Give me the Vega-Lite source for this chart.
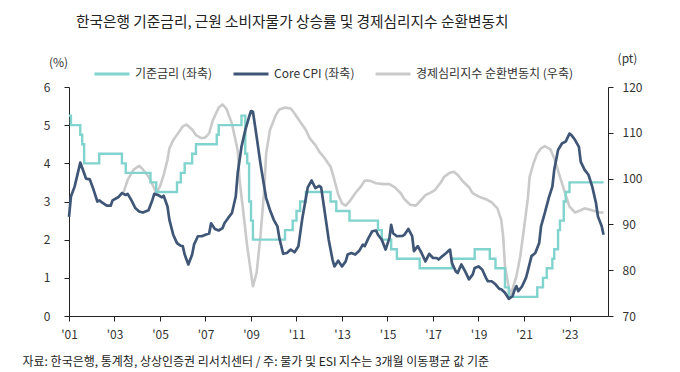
{
  "$schema": "https://vega.github.io/schema/vega-lite/v6.json",
  "width": 539,
  "height": 229,
  "autosize": {"type": "none"},
  "padding": {"left": 69, "top": 87, "right": 72, "bottom": 56},
  "background": "white",
  "title": {
    "text": "한국은행 기준금리, 근원 소비자물가 상승률 및 경제심리지수 순환변동치",
    "anchor": "start",
    "frame": "group",
    "dx": 7,
    "offset": 22,
    "fontSize": 14.7,
    "fontWeight": "normal",
    "color": "#222222",
    "font": "Noto Sans CJK KR"
  },
  "config": {
    "font": "Noto Sans CJK KR",
    "view": {"stroke": null},
    "axis": {
      "grid": false,
      "domainColor": "#222222",
      "tickColor": "#222222",
      "tickSize": 5,
      "labelFontSize": 12,
      "labelColor": "#333333",
      "labelOverlap": false,
      "titleFontSize": 12,
      "titleFontWeight": "normal",
      "titleColor": "#333333"
    }
  },
  "datasets": {
    "rows": [
      {"series": "기준금리 (좌축)", "date": "2001-01-01", "value": 5.25},
      {"series": "기준금리 (좌축)", "date": "2001-02-01", "value": 5.0},
      {"series": "기준금리 (좌축)", "date": "2001-07-01", "value": 4.75},
      {"series": "기준금리 (좌축)", "date": "2001-08-01", "value": 4.5},
      {"series": "기준금리 (좌축)", "date": "2001-09-01", "value": 4.0},
      {"series": "기준금리 (좌축)", "date": "2002-05-01", "value": 4.25},
      {"series": "기준금리 (좌축)", "date": "2003-05-01", "value": 4.0},
      {"series": "기준금리 (좌축)", "date": "2003-07-01", "value": 3.75},
      {"series": "기준금리 (좌축)", "date": "2004-08-01", "value": 3.5},
      {"series": "기준금리 (좌축)", "date": "2004-11-01", "value": 3.25},
      {"series": "기준금리 (좌축)", "date": "2005-10-01", "value": 3.5},
      {"series": "기준금리 (좌축)", "date": "2005-12-01", "value": 3.75},
      {"series": "기준금리 (좌축)", "date": "2006-02-01", "value": 4.0},
      {"series": "기준금리 (좌축)", "date": "2006-06-01", "value": 4.25},
      {"series": "기준금리 (좌축)", "date": "2006-08-01", "value": 4.5},
      {"series": "기준금리 (좌축)", "date": "2007-07-01", "value": 4.75},
      {"series": "기준금리 (좌축)", "date": "2007-08-01", "value": 5.0},
      {"series": "기준금리 (좌축)", "date": "2008-08-01", "value": 5.25},
      {"series": "기준금리 (좌축)", "date": "2008-10-01", "value": 4.25},
      {"series": "기준금리 (좌축)", "date": "2008-11-01", "value": 4.0},
      {"series": "기준금리 (좌축)", "date": "2008-12-01", "value": 3.0},
      {"series": "기준금리 (좌축)", "date": "2009-01-01", "value": 2.5},
      {"series": "기준금리 (좌축)", "date": "2009-02-01", "value": 2.0},
      {"series": "기준금리 (좌축)", "date": "2010-07-01", "value": 2.25},
      {"series": "기준금리 (좌축)", "date": "2010-11-01", "value": 2.5},
      {"series": "기준금리 (좌축)", "date": "2011-01-01", "value": 2.75},
      {"series": "기준금리 (좌축)", "date": "2011-03-01", "value": 3.0},
      {"series": "기준금리 (좌축)", "date": "2011-06-01", "value": 3.25},
      {"series": "기준금리 (좌축)", "date": "2012-07-01", "value": 3.0},
      {"series": "기준금리 (좌축)", "date": "2012-10-01", "value": 2.75},
      {"series": "기준금리 (좌축)", "date": "2013-05-01", "value": 2.5},
      {"series": "기준금리 (좌축)", "date": "2014-08-01", "value": 2.25},
      {"series": "기준금리 (좌축)", "date": "2014-10-01", "value": 2.0},
      {"series": "기준금리 (좌축)", "date": "2015-03-01", "value": 1.75},
      {"series": "기준금리 (좌축)", "date": "2015-06-01", "value": 1.5},
      {"series": "기준금리 (좌축)", "date": "2016-06-01", "value": 1.25},
      {"series": "기준금리 (좌축)", "date": "2017-11-01", "value": 1.5},
      {"series": "기준금리 (좌축)", "date": "2018-11-01", "value": 1.75},
      {"series": "기준금리 (좌축)", "date": "2019-07-01", "value": 1.5},
      {"series": "기준금리 (좌축)", "date": "2019-10-01", "value": 1.25},
      {"series": "기준금리 (좌축)", "date": "2020-03-01", "value": 0.75},
      {"series": "기준금리 (좌축)", "date": "2020-05-01", "value": 0.5},
      {"series": "기준금리 (좌축)", "date": "2021-08-01", "value": 0.75},
      {"series": "기준금리 (좌축)", "date": "2021-11-01", "value": 1.0},
      {"series": "기준금리 (좌축)", "date": "2022-01-01", "value": 1.25},
      {"series": "기준금리 (좌축)", "date": "2022-04-01", "value": 1.5},
      {"series": "기준금리 (좌축)", "date": "2022-05-01", "value": 1.75},
      {"series": "기준금리 (좌축)", "date": "2022-07-01", "value": 2.25},
      {"series": "기준금리 (좌축)", "date": "2022-08-01", "value": 2.5},
      {"series": "기준금리 (좌축)", "date": "2022-10-01", "value": 3.0},
      {"series": "기준금리 (좌축)", "date": "2022-11-01", "value": 3.25},
      {"series": "기준금리 (좌축)", "date": "2023-01-01", "value": 3.5},
      {"series": "기준금리 (좌축)", "date": "2024-07-01", "value": 3.5},

      {"series": "Core CPI (좌축)", "date": "2001-01-01", "value": 2.6},
      {"series": "Core CPI (좌축)", "date": "2001-02-01", "value": 3.13},
      {"series": "Core CPI (좌축)", "date": "2001-04-01", "value": 3.39},
      {"series": "Core CPI (좌축)", "date": "2001-07-01", "value": 4.02},
      {"series": "Core CPI (좌축)", "date": "2001-09-01", "value": 3.74},
      {"series": "Core CPI (좌축)", "date": "2001-10-01", "value": 3.6},
      {"series": "Core CPI (좌축)", "date": "2001-12-01", "value": 3.58},
      {"series": "Core CPI (좌축)", "date": "2002-02-01", "value": 3.3},
      {"series": "Core CPI (좌축)", "date": "2002-04-01", "value": 3.0},
      {"series": "Core CPI (좌축)", "date": "2002-05-01", "value": 3.03},
      {"series": "Core CPI (좌축)", "date": "2002-07-01", "value": 2.96},
      {"series": "Core CPI (좌축)", "date": "2002-09-01", "value": 2.89},
      {"series": "Core CPI (좌축)", "date": "2002-11-01", "value": 2.89},
      {"series": "Core CPI (좌축)", "date": "2002-12-01", "value": 3.03},
      {"series": "Core CPI (좌축)", "date": "2003-03-01", "value": 3.11},
      {"series": "Core CPI (좌축)", "date": "2003-05-01", "value": 3.22},
      {"series": "Core CPI (좌축)", "date": "2003-07-01", "value": 3.17},
      {"series": "Core CPI (좌축)", "date": "2003-08-01", "value": 3.2},
      {"series": "Core CPI (좌축)", "date": "2003-10-01", "value": 3.03},
      {"series": "Core CPI (좌축)", "date": "2003-12-01", "value": 2.83},
      {"series": "Core CPI (좌축)", "date": "2004-02-01", "value": 2.74},
      {"series": "Core CPI (좌축)", "date": "2004-04-01", "value": 2.71},
      {"series": "Core CPI (좌축)", "date": "2004-07-01", "value": 2.77},
      {"series": "Core CPI (좌축)", "date": "2004-09-01", "value": 3.04},
      {"series": "Core CPI (좌축)", "date": "2004-10-01", "value": 3.2},
      {"series": "Core CPI (좌축)", "date": "2004-12-01", "value": 3.17},
      {"series": "Core CPI (좌축)", "date": "2005-02-01", "value": 3.11},
      {"series": "Core CPI (좌축)", "date": "2005-03-01", "value": 3.15},
      {"series": "Core CPI (좌축)", "date": "2005-05-01", "value": 2.87},
      {"series": "Core CPI (좌축)", "date": "2005-06-01", "value": 2.52},
      {"series": "Core CPI (좌축)", "date": "2005-08-01", "value": 2.13},
      {"series": "Core CPI (좌축)", "date": "2005-10-01", "value": 1.91},
      {"series": "Core CPI (좌축)", "date": "2005-12-01", "value": 1.84},
      {"series": "Core CPI (좌축)", "date": "2006-01-01", "value": 1.83},
      {"series": "Core CPI (좌축)", "date": "2006-02-01", "value": 1.61},
      {"series": "Core CPI (좌축)", "date": "2006-04-01", "value": 1.35},
      {"series": "Core CPI (좌축)", "date": "2006-06-01", "value": 1.61},
      {"series": "Core CPI (좌축)", "date": "2006-07-01", "value": 1.87},
      {"series": "Core CPI (좌축)", "date": "2006-09-01", "value": 2.09},
      {"series": "Core CPI (좌축)", "date": "2006-11-01", "value": 2.09},
      {"series": "Core CPI (좌축)", "date": "2007-01-01", "value": 2.13},
      {"series": "Core CPI (좌축)", "date": "2007-03-01", "value": 2.16},
      {"series": "Core CPI (좌축)", "date": "2007-04-01", "value": 2.43},
      {"series": "Core CPI (좌축)", "date": "2007-06-01", "value": 2.28},
      {"series": "Core CPI (좌축)", "date": "2007-08-01", "value": 2.24},
      {"series": "Core CPI (좌축)", "date": "2007-10-01", "value": 2.3},
      {"series": "Core CPI (좌축)", "date": "2007-11-01", "value": 2.43},
      {"series": "Core CPI (좌축)", "date": "2008-01-01", "value": 2.57},
      {"series": "Core CPI (좌축)", "date": "2008-03-01", "value": 2.7},
      {"series": "Core CPI (좌축)", "date": "2008-05-01", "value": 3.13},
      {"series": "Core CPI (좌축)", "date": "2008-06-01", "value": 3.74},
      {"series": "Core CPI (좌축)", "date": "2008-08-01", "value": 4.43},
      {"series": "Core CPI (좌축)", "date": "2008-10-01", "value": 4.87},
      {"series": "Core CPI (좌축)", "date": "2008-12-01", "value": 5.22},
      {"series": "Core CPI (좌축)", "date": "2009-01-01", "value": 5.37},
      {"series": "Core CPI (좌축)", "date": "2009-02-01", "value": 5.35},
      {"series": "Core CPI (좌축)", "date": "2009-04-01", "value": 4.7},
      {"series": "Core CPI (좌축)", "date": "2009-06-01", "value": 4.0},
      {"series": "Core CPI (좌축)", "date": "2009-08-01", "value": 3.39},
      {"series": "Core CPI (좌축)", "date": "2009-09-01", "value": 3.09},
      {"series": "Core CPI (좌축)", "date": "2009-11-01", "value": 2.78},
      {"series": "Core CPI (좌축)", "date": "2010-01-01", "value": 2.52},
      {"series": "Core CPI (좌축)", "date": "2010-03-01", "value": 2.35},
      {"series": "Core CPI (좌축)", "date": "2010-04-01", "value": 2.04},
      {"series": "Core CPI (좌축)", "date": "2010-06-01", "value": 1.63},
      {"series": "Core CPI (좌축)", "date": "2010-08-01", "value": 1.65},
      {"series": "Core CPI (좌축)", "date": "2010-09-01", "value": 1.7},
      {"series": "Core CPI (좌축)", "date": "2010-10-01", "value": 1.74},
      {"series": "Core CPI (좌축)", "date": "2010-12-01", "value": 1.67},
      {"series": "Core CPI (좌축)", "date": "2011-02-01", "value": 1.83},
      {"series": "Core CPI (좌축)", "date": "2011-04-01", "value": 2.52},
      {"series": "Core CPI (좌축)", "date": "2011-06-01", "value": 3.09},
      {"series": "Core CPI (좌축)", "date": "2011-07-01", "value": 3.37},
      {"series": "Core CPI (좌축)", "date": "2011-09-01", "value": 3.55},
      {"series": "Core CPI (좌축)", "date": "2011-11-01", "value": 3.35},
      {"series": "Core CPI (좌축)", "date": "2012-01-01", "value": 3.41},
      {"series": "Core CPI (좌축)", "date": "2012-02-01", "value": 3.37},
      {"series": "Core CPI (좌축)", "date": "2012-04-01", "value": 2.7},
      {"series": "Core CPI (좌축)", "date": "2012-06-01", "value": 2.0},
      {"series": "Core CPI (좌축)", "date": "2012-08-01", "value": 1.48},
      {"series": "Core CPI (좌축)", "date": "2012-09-01", "value": 1.3},
      {"series": "Core CPI (좌축)", "date": "2012-11-01", "value": 1.45},
      {"series": "Core CPI (좌축)", "date": "2013-01-01", "value": 1.3},
      {"series": "Core CPI (좌축)", "date": "2013-03-01", "value": 1.43},
      {"series": "Core CPI (좌축)", "date": "2013-04-01", "value": 1.61},
      {"series": "Core CPI (좌축)", "date": "2013-06-01", "value": 1.65},
      {"series": "Core CPI (좌축)", "date": "2013-08-01", "value": 1.61},
      {"series": "Core CPI (좌축)", "date": "2013-10-01", "value": 1.7},
      {"series": "Core CPI (좌축)", "date": "2013-12-01", "value": 1.87},
      {"series": "Core CPI (좌축)", "date": "2014-01-01", "value": 1.83},
      {"series": "Core CPI (좌축)", "date": "2014-03-01", "value": 2.04},
      {"series": "Core CPI (좌축)", "date": "2014-05-01", "value": 2.22},
      {"series": "Core CPI (좌축)", "date": "2014-07-01", "value": 2.24},
      {"series": "Core CPI (좌축)", "date": "2014-08-01", "value": 2.13},
      {"series": "Core CPI (좌축)", "date": "2014-10-01", "value": 2.0},
      {"series": "Core CPI (좌축)", "date": "2014-12-01", "value": 1.74},
      {"series": "Core CPI (좌축)", "date": "2015-02-01", "value": 2.04},
      {"series": "Core CPI (좌축)", "date": "2015-03-01", "value": 2.39},
      {"series": "Core CPI (좌축)", "date": "2015-04-01", "value": 2.17},
      {"series": "Core CPI (좌축)", "date": "2015-06-01", "value": 2.09},
      {"series": "Core CPI (좌축)", "date": "2015-09-01", "value": 2.1},
      {"series": "Core CPI (좌축)", "date": "2015-10-01", "value": 2.13},
      {"series": "Core CPI (좌축)", "date": "2015-12-01", "value": 2.28},
      {"series": "Core CPI (좌축)", "date": "2016-02-01", "value": 2.09},
      {"series": "Core CPI (좌축)", "date": "2016-03-01", "value": 1.7},
      {"series": "Core CPI (좌축)", "date": "2016-05-01", "value": 1.83},
      {"series": "Core CPI (좌축)", "date": "2016-07-01", "value": 1.65},
      {"series": "Core CPI (좌축)", "date": "2016-09-01", "value": 1.43},
      {"series": "Core CPI (좌축)", "date": "2016-11-01", "value": 1.63},
      {"series": "Core CPI (좌축)", "date": "2017-01-01", "value": 1.52},
      {"series": "Core CPI (좌축)", "date": "2017-03-01", "value": 1.52},
      {"series": "Core CPI (좌축)", "date": "2017-04-01", "value": 1.48},
      {"series": "Core CPI (좌축)", "date": "2017-06-01", "value": 1.57},
      {"series": "Core CPI (좌축)", "date": "2017-08-01", "value": 1.65},
      {"series": "Core CPI (좌축)", "date": "2017-10-01", "value": 1.74},
      {"series": "Core CPI (좌축)", "date": "2017-11-01", "value": 1.39},
      {"series": "Core CPI (좌축)", "date": "2018-01-01", "value": 1.17},
      {"series": "Core CPI (좌축)", "date": "2018-02-01", "value": 1.13},
      {"series": "Core CPI (좌축)", "date": "2018-04-01", "value": 1.35},
      {"series": "Core CPI (좌축)", "date": "2018-06-01", "value": 1.17},
      {"series": "Core CPI (좌축)", "date": "2018-08-01", "value": 0.96},
      {"series": "Core CPI (좌축)", "date": "2018-10-01", "value": 1.09},
      {"series": "Core CPI (좌축)", "date": "2018-11-01", "value": 1.26},
      {"series": "Core CPI (좌축)", "date": "2019-01-01", "value": 1.3},
      {"series": "Core CPI (좌축)", "date": "2019-03-01", "value": 1.22},
      {"series": "Core CPI (좌축)", "date": "2019-05-01", "value": 1.0},
      {"series": "Core CPI (좌축)", "date": "2019-06-01", "value": 0.91},
      {"series": "Core CPI (좌축)", "date": "2019-08-01", "value": 0.91},
      {"series": "Core CPI (좌축)", "date": "2019-10-01", "value": 0.83},
      {"series": "Core CPI (좌축)", "date": "2019-12-01", "value": 0.71},
      {"series": "Core CPI (좌축)", "date": "2020-01-01", "value": 0.7},
      {"series": "Core CPI (좌축)", "date": "2020-03-01", "value": 0.61},
      {"series": "Core CPI (좌축)", "date": "2020-05-01", "value": 0.45},
      {"series": "Core CPI (좌축)", "date": "2020-07-01", "value": 0.52},
      {"series": "Core CPI (좌축)", "date": "2020-08-01", "value": 0.68},
      {"series": "Core CPI (좌축)", "date": "2020-09-01", "value": 0.78},
      {"series": "Core CPI (좌축)", "date": "2020-10-01", "value": 0.65},
      {"series": "Core CPI (좌축)", "date": "2020-12-01", "value": 0.78},
      {"series": "Core CPI (좌축)", "date": "2021-02-01", "value": 1.0},
      {"series": "Core CPI (좌축)", "date": "2021-03-01", "value": 1.17},
      {"series": "Core CPI (좌축)", "date": "2021-05-01", "value": 1.57},
      {"series": "Core CPI (좌축)", "date": "2021-07-01", "value": 1.65},
      {"series": "Core CPI (좌축)", "date": "2021-09-01", "value": 1.91},
      {"series": "Core CPI (좌축)", "date": "2021-10-01", "value": 2.35},
      {"series": "Core CPI (좌축)", "date": "2021-12-01", "value": 2.7},
      {"series": "Core CPI (좌축)", "date": "2022-02-01", "value": 3.09},
      {"series": "Core CPI (좌축)", "date": "2022-04-01", "value": 3.39},
      {"series": "Core CPI (좌축)", "date": "2022-05-01", "value": 3.83},
      {"series": "Core CPI (좌축)", "date": "2022-07-01", "value": 4.35},
      {"series": "Core CPI (좌축)", "date": "2022-09-01", "value": 4.52},
      {"series": "Core CPI (좌축)", "date": "2022-11-01", "value": 4.57},
      {"series": "Core CPI (좌축)", "date": "2023-01-01", "value": 4.78},
      {"series": "Core CPI (좌축)", "date": "2023-02-01", "value": 4.74},
      {"series": "Core CPI (좌축)", "date": "2023-04-01", "value": 4.61},
      {"series": "Core CPI (좌축)", "date": "2023-06-01", "value": 4.43},
      {"series": "Core CPI (좌축)", "date": "2023-07-01", "value": 4.04},
      {"series": "Core CPI (좌축)", "date": "2023-09-01", "value": 3.83},
      {"series": "Core CPI (좌축)", "date": "2023-11-01", "value": 3.7},
      {"series": "Core CPI (좌축)", "date": "2024-01-01", "value": 3.39},
      {"series": "Core CPI (좌축)", "date": "2024-03-01", "value": 2.96},
      {"series": "Core CPI (좌축)", "date": "2024-04-01", "value": 2.61},
      {"series": "Core CPI (좌축)", "date": "2024-06-01", "value": 2.35},
      {"series": "Core CPI (좌축)", "date": "2024-07-01", "value": 2.13},

      {"series": "경제심리지수 순환변동치 (우축)", "date": "2003-03-01", "value": 95.9},
      {"series": "경제심리지수 순환변동치 (우축)", "date": "2003-06-01", "value": 97.2},
      {"series": "경제심리지수 순환변동치 (우축)", "date": "2003-08-01", "value": 99.7},
      {"series": "경제심리지수 순환변동치 (우축)", "date": "2003-11-01", "value": 101.9},
      {"series": "경제심리지수 순환변동치 (우축)", "date": "2004-02-01", "value": 102.8},
      {"series": "경제심리지수 순환변동치 (우축)", "date": "2004-04-01", "value": 102.0},
      {"series": "경제심리지수 순환변동치 (우축)", "date": "2004-07-01", "value": 100.4},
      {"series": "경제심리지수 순환변동치 (우축)", "date": "2004-10-01", "value": 97.9},
      {"series": "경제심리지수 순환변동치 (우축)", "date": "2004-11-01", "value": 96.8},
      {"series": "경제심리지수 순환변동치 (우축)", "date": "2005-01-01", "value": 98.3},
      {"series": "경제심리지수 순환변동치 (우축)", "date": "2005-03-01", "value": 100.8},
      {"series": "경제심리지수 순환변동치 (우축)", "date": "2005-05-01", "value": 104.1},
      {"series": "경제심리지수 순환변동치 (우축)", "date": "2005-06-01", "value": 106.6},
      {"series": "경제심리지수 순환변동치 (우축)", "date": "2005-08-01", "value": 108.4},
      {"series": "경제심리지수 순환변동치 (우축)", "date": "2005-11-01", "value": 110.2},
      {"series": "경제심리지수 순환변동치 (우축)", "date": "2006-01-01", "value": 111.4},
      {"series": "경제심리지수 순환변동치 (우축)", "date": "2006-03-01", "value": 111.8},
      {"series": "경제심리지수 순환변동치 (우축)", "date": "2006-06-01", "value": 110.7},
      {"series": "경제심리지수 순환변동치 (우축)", "date": "2006-08-01", "value": 109.5},
      {"series": "경제심리지수 순환변동치 (우축)", "date": "2006-11-01", "value": 108.8},
      {"series": "경제심리지수 순환변동치 (우축)", "date": "2007-01-01", "value": 109.0},
      {"series": "경제심리지수 순환변동치 (우축)", "date": "2007-03-01", "value": 109.9},
      {"series": "경제심리지수 순환변동치 (우축)", "date": "2007-05-01", "value": 112.8},
      {"series": "경제심리지수 순환변동치 (우축)", "date": "2007-08-01", "value": 115.5},
      {"series": "경제심리지수 순환변동치 (우축)", "date": "2007-10-01", "value": 116.2},
      {"series": "경제심리지수 순환변동치 (우축)", "date": "2007-12-01", "value": 115.3},
      {"series": "경제심리지수 순환변동치 (우축)", "date": "2008-03-01", "value": 112.0},
      {"series": "경제심리지수 순환변동치 (우축)", "date": "2008-06-01", "value": 106.2},
      {"series": "경제심리지수 순환변동치 (우축)", "date": "2008-07-01", "value": 99.7},
      {"series": "경제심리지수 순환변동치 (우축)", "date": "2008-09-01", "value": 92.5},
      {"series": "경제심리지수 순환변동치 (우축)", "date": "2008-11-01", "value": 85.2},
      {"series": "경제심리지수 순환변동치 (우축)", "date": "2009-01-01", "value": 79.4},
      {"series": "경제심리지수 순환변동치 (우축)", "date": "2009-02-01", "value": 76.5},
      {"series": "경제심리지수 순환변동치 (우축)", "date": "2009-04-01", "value": 79.4},
      {"series": "경제심리지수 순환변동치 (우축)", "date": "2009-06-01", "value": 87.4},
      {"series": "경제심리지수 순환변동치 (우축)", "date": "2009-08-01", "value": 97.5},
      {"series": "경제심리지수 순환변동치 (우축)", "date": "2009-09-01", "value": 105.5},
      {"series": "경제심리지수 순환변동치 (우축)", "date": "2009-11-01", "value": 110.6},
      {"series": "경제심리지수 순환변동치 (우축)", "date": "2010-02-01", "value": 113.8},
      {"series": "경제심리지수 순환변동치 (우축)", "date": "2010-04-01", "value": 115.1},
      {"series": "경제심리지수 순환변동치 (우축)", "date": "2010-07-01", "value": 115.5},
      {"series": "경제심리지수 순환변동치 (우축)", "date": "2010-10-01", "value": 115.3},
      {"series": "경제심리지수 순환변동치 (우축)", "date": "2010-12-01", "value": 114.2},
      {"series": "경제심리지수 순환변동치 (우축)", "date": "2011-03-01", "value": 112.4},
      {"series": "경제심리지수 순환변동치 (우축)", "date": "2011-06-01", "value": 110.6},
      {"series": "경제심리지수 순환변동치 (우축)", "date": "2011-08-01", "value": 108.8},
      {"series": "경제심리지수 순환변동치 (우축)", "date": "2011-11-01", "value": 107.3},
      {"series": "경제심리지수 순환변동치 (우축)", "date": "2012-01-01", "value": 105.9},
      {"series": "경제심리지수 순환변동치 (우축)", "date": "2012-04-01", "value": 104.4},
      {"series": "경제심리지수 순환변동치 (우축)", "date": "2012-07-01", "value": 102.6},
      {"series": "경제심리지수 순환변동치 (우축)", "date": "2012-09-01", "value": 99.7},
      {"series": "경제심리지수 순환변동치 (우축)", "date": "2012-11-01", "value": 96.5},
      {"series": "경제심리지수 순환변동치 (우축)", "date": "2013-01-01", "value": 94.6},
      {"series": "경제심리지수 순환변동치 (우축)", "date": "2013-03-01", "value": 94.1},
      {"series": "경제심리지수 순환변동치 (우축)", "date": "2013-05-01", "value": 95.0},
      {"series": "경제심리지수 순환변동치 (우축)", "date": "2013-08-01", "value": 96.8},
      {"series": "경제심리지수 순환변동치 (우축)", "date": "2013-11-01", "value": 98.3},
      {"series": "경제심리지수 순환변동치 (우축)", "date": "2014-01-01", "value": 99.6},
      {"series": "경제심리지수 순환변동치 (우축)", "date": "2014-04-01", "value": 99.5},
      {"series": "경제심리지수 순환변동치 (우축)", "date": "2014-07-01", "value": 99.0},
      {"series": "경제심리지수 순환변동치 (우축)", "date": "2014-11-01", "value": 98.8},
      {"series": "경제심리지수 순환변동치 (우축)", "date": "2015-02-01", "value": 98.8},
      {"series": "경제심리지수 순환변동치 (우축)", "date": "2015-05-01", "value": 98.1},
      {"series": "경제심리지수 순환변동치 (우축)", "date": "2015-08-01", "value": 96.8},
      {"series": "경제심리지수 순환변동치 (우축)", "date": "2015-10-01", "value": 95.5},
      {"series": "경제심리지수 순환변동치 (우축)", "date": "2016-01-01", "value": 94.3},
      {"series": "경제심리지수 순환변동치 (우축)", "date": "2016-04-01", "value": 94.1},
      {"series": "경제심리지수 순환변동치 (우축)", "date": "2016-06-01", "value": 95.0},
      {"series": "경제심리지수 순환변동치 (우축)", "date": "2016-09-01", "value": 96.4},
      {"series": "경제심리지수 순환변동치 (우축)", "date": "2016-12-01", "value": 97.0},
      {"series": "경제심리지수 순환변동치 (우축)", "date": "2017-02-01", "value": 97.5},
      {"series": "경제심리지수 순환변동치 (우축)", "date": "2017-05-01", "value": 99.1},
      {"series": "경제심리지수 순환변동치 (우축)", "date": "2017-07-01", "value": 100.4},
      {"series": "경제심리지수 순환변동치 (우축)", "date": "2017-10-01", "value": 101.3},
      {"series": "경제심리지수 순환변동치 (우축)", "date": "2017-12-01", "value": 101.5},
      {"series": "경제심리지수 순환변동치 (우축)", "date": "2018-02-01", "value": 100.8},
      {"series": "경제심리지수 순환변동치 (우축)", "date": "2018-05-01", "value": 99.3},
      {"series": "경제심리지수 순환변동치 (우축)", "date": "2018-08-01", "value": 98.1},
      {"series": "경제심리지수 순환변동치 (우축)", "date": "2018-10-01", "value": 96.8},
      {"series": "경제심리지수 순환변동치 (우축)", "date": "2019-01-01", "value": 96.1},
      {"series": "경제심리지수 순환변동치 (우축)", "date": "2019-05-01", "value": 95.5},
      {"series": "경제심리지수 순환변동치 (우축)", "date": "2019-08-01", "value": 94.8},
      {"series": "경제심리지수 순환변동치 (우축)", "date": "2019-11-01", "value": 93.5},
      {"series": "경제심리지수 순환변동치 (우축)", "date": "2020-01-01", "value": 91.0},
      {"series": "경제심리지수 순환변동치 (우축)", "date": "2020-02-01", "value": 87.4},
      {"series": "경제심리지수 순환변동치 (우축)", "date": "2020-03-01", "value": 80.9},
      {"series": "경제심리지수 순환변동치 (우축)", "date": "2020-05-01", "value": 76.2},
      {"series": "경제심리지수 순환변동치 (우축)", "date": "2020-06-01", "value": 74.7},
      {"series": "경제심리지수 순환변동치 (우축)", "date": "2020-07-01", "value": 75.9},
      {"series": "경제심리지수 순환변동치 (우축)", "date": "2020-09-01", "value": 78.7},
      {"series": "경제심리지수 순환변동치 (우축)", "date": "2020-11-01", "value": 83.0},
      {"series": "경제심리지수 순환변동치 (우축)", "date": "2021-01-01", "value": 89.2},
      {"series": "경제심리지수 순환변동치 (우축)", "date": "2021-03-01", "value": 95.4},
      {"series": "경제심리지수 순환변동치 (우축)", "date": "2021-04-01", "value": 100.4},
      {"series": "경제심리지수 순환변동치 (우축)", "date": "2021-06-01", "value": 103.3},
      {"series": "경제심리지수 순환변동치 (우축)", "date": "2021-08-01", "value": 105.5},
      {"series": "경제심리지수 순환변동치 (우축)", "date": "2021-10-01", "value": 106.6},
      {"series": "경제심리지수 순환변동치 (우축)", "date": "2021-12-01", "value": 107.1},
      {"series": "경제심리지수 순환변동치 (우축)", "date": "2022-03-01", "value": 106.4},
      {"series": "경제심리지수 순환변동치 (우축)", "date": "2022-05-01", "value": 104.4},
      {"series": "경제심리지수 순환변동치 (우축)", "date": "2022-08-01", "value": 100.4},
      {"series": "경제심리지수 순환변동치 (우축)", "date": "2022-11-01", "value": 96.4},
      {"series": "경제심리지수 순환변동치 (우축)", "date": "2023-01-01", "value": 93.9},
      {"series": "경제심리지수 순환변동치 (우축)", "date": "2023-04-01", "value": 92.6},
      {"series": "경제심리지수 순환변동치 (우축)", "date": "2023-07-01", "value": 93.1},
      {"series": "경제심리지수 순환변동치 (우축)", "date": "2023-09-01", "value": 93.5},
      {"series": "경제심리지수 순환변동치 (우축)", "date": "2023-12-01", "value": 93.2},
      {"series": "경제심리지수 순환변동치 (우축)", "date": "2024-03-01", "value": 92.8},
      {"series": "경제심리지수 순환변동치 (우축)", "date": "2024-05-01", "value": 92.6},
      {"series": "경제심리지수 순환변동치 (우축)", "date": "2024-07-01", "value": 92.6}
    ]
  },
  "data": {"name": "rows"},
  "encoding": {
    "x": {
      "field": "date",
      "type": "temporal",
      "scale": {
        "type": "utc",
        "domain": [
          {"year": 2001, "month": 1, "date": 1, "utc": true},
          {"year": 2024, "month": 9, "date": 10, "utc": true}
        ]
      },
      "axis": {
        "values": [
          {"year": 2001, "utc": true}, {"year": 2003, "utc": true}, {"year": 2005, "utc": true},
          {"year": 2007, "utc": true}, {"year": 2009, "utc": true}, {"year": 2011, "utc": true},
          {"year": 2013, "utc": true}, {"year": 2015, "utc": true}, {"year": 2017, "utc": true},
          {"year": 2019, "utc": true}, {"year": 2021, "utc": true}, {"year": 2023, "utc": true}
        ],
        "labelExpr": "\"'\" + utcFormat(datum.value, '%y')",
        "labelPadding": 8,
        "labelFlush": false,
        "title": "자료: 한국은행, 통계청, 상상인증권 리서치센터 / 주: 물가 및 ESI 지수는 3개월 이동평균 값 기준",
        "titleX": -47,
        "titleY": 45,
        "titleAlign": "left",
        "titleBaseline": "middle",
        "titleAnchor": "start",
        "titleFontSize": 12,
        "titleColor": "#222222"
      }
    },
    "color": {
      "field": "series",
      "type": "nominal",
      "scale": {
        "domain": ["기준금리 (좌축)", "Core CPI (좌축)", "경제심리지수 순환변동치 (우축)"],
        "range": ["#80d4cd", "#3f5676", "#cacaca"]
      },
      "legend": {
        "orient": "none",
        "legendX": 24,
        "legendY": -32,
        "direction": "horizontal",
        "title": null,
        "symbolType": "stroke",
        "symbolSize": 1225,
        "symbolStrokeWidth": 3,
        "labelFontSize": 12,
        "labelOffset": 4,
        "labelColor": "#333333",
        "labelLimit": 300,
        "columnPadding": 14
      }
    }
  },
  "layer": [
    {
      "transform": [{"filter": "datum.series === '경제심리지수 순환변동치 (우축)'"}],
      "mark": {"type": "line", "strokeWidth": 2.6, "strokeJoin": "round"},
      "encoding": {
        "y": {
          "field": "value",
          "type": "quantitative",
          "scale": {"domain": [70, 120], "nice": false, "zero": false},
          "axis": {
            "orient": "right",
            "values": [70, 80, 90, 100, 110, 120],
            "labelPadding": 9,
            "title": "(pt)",
            "titleAngle": 0,
            "titleX": 19,
            "titleY": -29,
            "titleAlign": "center",
            "titleBaseline": "middle"
          }
        }
      }
    },
    {
      "encoding": {
        "y": {
          "field": "value",
          "type": "quantitative",
          "scale": {"domain": [0, 6], "nice": false},
          "axis": {
            "orient": "left",
            "values": [0, 1, 2, 3, 4, 5, 6],
            "labelOverlap": false,
            "labelPadding": 14,
            "title": "(%)",
            "titleAngle": 0,
            "titleX": -11,
            "titleY": -25,
            "titleAlign": "center",
            "titleBaseline": "middle"
          }
        }
      },
      "layer": [
        {
          "transform": [{"filter": "datum.series === '기준금리 (좌축)'"}],
          "mark": {"type": "line", "strokeWidth": 2.4, "interpolate": "step-after"}
        },
        {
          "transform": [{"filter": "datum.series === 'Core CPI (좌축)'"}],
          "mark": {"type": "line", "strokeWidth": 2.7, "strokeJoin": "round"}
        }
      ]
    }
  ],
  "resolve": {"scale": {"y": "independent"}}
}
